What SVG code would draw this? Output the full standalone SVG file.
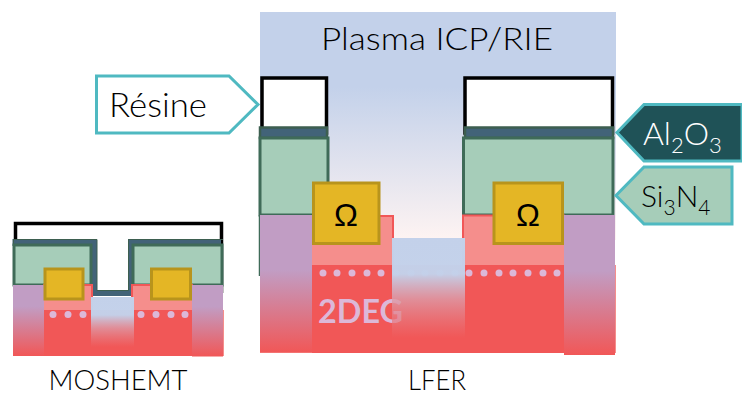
<svg xmlns="http://www.w3.org/2000/svg" width="742" height="396" viewBox="0 0 742 396">
<defs>
<linearGradient id="plasma" x1="0" y1="12" x2="0" y2="238" gradientUnits="userSpaceOnUse"><stop offset="0" stop-color="#c3d1ea"/><stop offset="0.33" stop-color="#c3d1ea"/><stop offset="1" stop-color="#fdf3f2"/></linearGradient>
<linearGradient id="pL" x1="0" y1="0" x2="0" y2="1"><stop offset="0" stop-color="#c19dc4"/><stop offset="0.4" stop-color="#c19dc4"/><stop offset="1" stop-color="#f15757"/></linearGradient>
<linearGradient id="pS" x1="0" y1="0" x2="0" y2="1"><stop offset="0" stop-color="#c19dc4"/><stop offset="0.3" stop-color="#c19dc4"/><stop offset="1" stop-color="#f15757"/></linearGradient>
<linearGradient id="rec" x1="0" y1="0" x2="0" y2="1"><stop offset="0" stop-color="#c3d1ea"/><stop offset="0.36" stop-color="#c3d1ea" stop-opacity="0.98"/><stop offset="0.62" stop-color="#dc9ba8" stop-opacity="0.8"/><stop offset="1" stop-color="#f15757" stop-opacity="0.6"/></linearGradient>
</defs>
<style>
text{font-family:"Lato","Open Sans",sans-serif;fill:#000;font-weight:300}
.om{font-family:"Liberation Sans",sans-serif;font-size:32px;text-anchor:middle;fill:#000;font-weight:400}
.res{fill:#fff;stroke:#000;stroke-width:3.5}
.al{fill:#426378;stroke:#3d5f50;stroke-width:2.5}
.si{fill:#a6cdb9;stroke:#3f6b58;stroke-width:3}
.ohm{fill:#e4b625;stroke:#b8941c;stroke-width:3}
.pink{fill:#f58e8c;stroke:#f15757;stroke-width:2}
.red{fill:#f15757}
.dot{fill:#dcb8d8}
.tag{stroke:#4fb9c1;stroke-width:3}
.cap{font-size:27px;text-anchor:middle}
.lab{font-size:32px}
</style>

<g id="lfer">
<rect x="260" y="12" width="356" height="228" fill="url(#plasma)"/>
<rect x="262" y="78" width="64.500" height="55" class="res"/>
<rect x="465" y="78" width="147.500" height="55" class="res"/>
<path d="M259.500 215V276" stroke="#3f6b58" stroke-width="1.500" fill="none"/>
<rect x="260" y="127.500" width="67" height="10.500" class="al"/>
<rect x="465" y="127.500" width="148" height="10.500" class="al"/>
<rect x="260" y="138" width="68" height="77" class="si"/>
<rect x="463.500" y="138" width="149.500" height="77" class="si"/>
<rect x="260" y="265" width="356" height="88" fill="#f58e8c"/>
<rect x="312" y="265" width="252" height="88" class="red"/>
<rect x="312" y="216" width="81" height="49" class="pink"/>
<rect x="463" y="215.500" width="101" height="49.500" class="pink"/>
<rect x="312" y="218" width="80" height="47" fill="#f58e8c"/>
<rect x="464" y="217" width="100" height="48" fill="#f58e8c"/>
<rect x="260" y="215" width="52" height="137.500" fill="url(#pL)"/>
<rect x="564" y="215" width="51" height="140" fill="url(#pL)"/>
<g class="dot">
<circle cx="323" cy="273" r="3.500"/><circle cx="337" cy="273" r="3.500"/><circle cx="352" cy="273" r="3.500"/><circle cx="367" cy="273" r="3.500"/><circle cx="381" cy="273" r="3.500"/><circle cx="396" cy="273" r="3.500"/><circle cx="411" cy="273" r="3.500"/><circle cx="425" cy="273" r="3.500"/><circle cx="440" cy="273" r="3.500"/><circle cx="455" cy="273" r="3.500"/><circle cx="469" cy="273" r="3.500"/><circle cx="484" cy="273" r="3.500"/><circle cx="499" cy="273" r="3.500"/><circle cx="513" cy="273" r="3.500"/><circle cx="528" cy="273" r="3.500"/><circle cx="543" cy="273" r="3.500"/><circle cx="557" cy="273" r="3.500"/>
</g>
<text x="318" y="322.500" font-size="33" style="fill:#dcb8d8;font-weight:700" textLength="85" lengthAdjust="spacingAndGlyphs">2DEG</text>
<rect x="392" y="238" width="73" height="100" fill="url(#rec)"/>
<rect x="313.500" y="183" width="65.500" height="60.500" class="ohm"/>
<rect x="494" y="183" width="68.500" height="60.500" class="ohm"/>
<text x="346" y="226" class="om">Ω</text>
<text x="528" y="226" class="om">Ω</text>
<text x="437" y="50" font-size="32" text-anchor="middle" textLength="232" lengthAdjust="spacingAndGlyphs">Plasma ICP/RIE</text>
<text x="437" y="390" class="cap" textLength="58" lengthAdjust="spacingAndGlyphs">LFER</text>
</g>

<g id="moshemt">
<path d="M15.500 240V223.500H221.500V293" class="res" style="fill:#fff"/>
<path d="M15 246V241.500H94.500V293.500H130.500V241.500H221" fill="none" stroke="#426378" stroke-width="5"/>
<path d="M13.500 247V239.500H97V290.500H128.500V239.500H223" fill="none" stroke="#3d5f50" stroke-width="1"/>
<rect x="14" y="245" width="77" height="40" class="si"/>
<rect x="133" y="245" width="89" height="40" class="si"/>
<rect x="13" y="310" width="211" height="46" fill="#f58e8c"/>
<rect x="44" y="310" width="148" height="46" class="red"/>
<rect x="44" y="285" width="48" height="25" class="pink"/>
<rect x="132" y="285" width="60" height="25" class="pink"/>
<rect x="44" y="287" width="47" height="23" fill="#f58e8c"/>
<rect x="133" y="287" width="59" height="23" fill="#f58e8c"/>
<rect x="13" y="285" width="31" height="71" fill="url(#pS)"/>
<rect x="192" y="285" width="31" height="71.500" fill="url(#pS)"/>
<g class="dot">
<circle cx="53" cy="314.500" r="3.500"/><circle cx="68" cy="314.500" r="3.500"/><circle cx="83" cy="314.500" r="3.500"/><circle cx="141" cy="314.500" r="3.500"/><circle cx="156" cy="314.500" r="3.500"/><circle cx="171" cy="314.500" r="3.500"/><circle cx="185" cy="314.500" r="3.500"/>
</g>
<rect x="91" y="297" width="43" height="50" fill="url(#rec)"/>
<rect x="45" y="269" width="38" height="30" class="ohm"/>
<rect x="151.500" y="269" width="39" height="30" class="ohm"/>
<text x="118" y="390" class="cap" textLength="139" lengthAdjust="spacingAndGlyphs">MOSHEMT</text>
</g>

<g id="resine-label">
<path d="M96.500 76H229L258 104.500L229 133H96.500Z" fill="#fff" class="tag"/>
<text x="109" y="117" font-size="34" textLength="98" lengthAdjust="spacingAndGlyphs">Résine</text>
</g>
<g id="al2o3-label">
<path d="M742 104.500H644L617 132.500L644 161H742Z" fill="#1f5257" class="tag"/>
<text x="643" y="145" class="lab" style="fill:#fff">Al<tspan font-size="22" dy="8">2</tspan><tspan dy="-8">O</tspan><tspan font-size="22" dy="8">3</tspan></text>
</g>
<g id="si3n4-label">
<path d="M732 167H644L616 195.500L644 224H732Z" fill="#a6cdb9" class="tag"/>
<text x="641" y="207" class="lab" style="font-size:30px">Si<tspan font-size="21" dy="8">3</tspan><tspan dy="-8">N</tspan><tspan font-size="21" dy="8">4</tspan></text>
</g>
<g id="connectors"/>
</svg>
